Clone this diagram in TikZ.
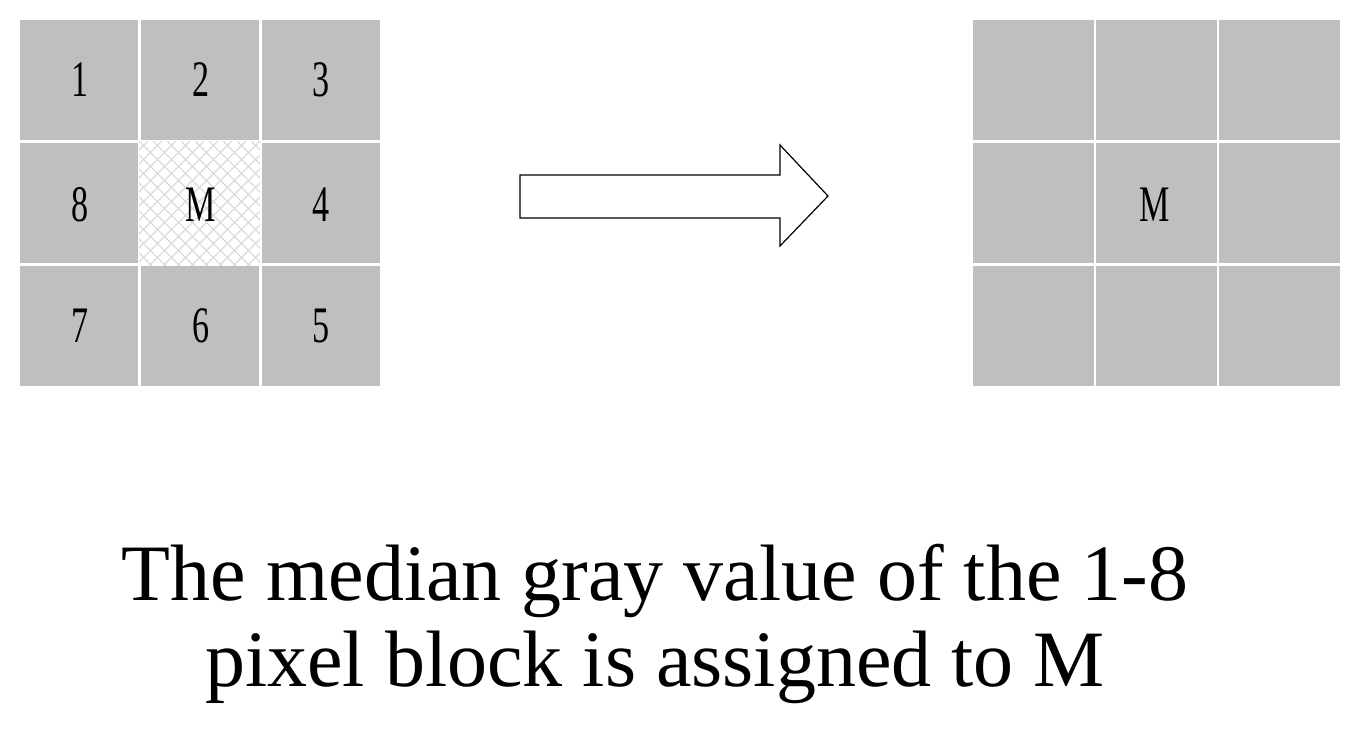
\documentclass[tikz,border=0pt]{standalone}
\usepackage{fontspec}
\setmainfont{Liberation Serif}
\begin{document}
\begin{tikzpicture}[x=0.75pt,y=-0.75pt,
  lab/.style={font=\fontsize{32pt}{34pt}\selectfont}]
\useasboundingbox (0,0) rectangle (1363,746);
\newcommand{\tall}[1]{\scalebox{0.8}[1.2]{#1}}
% left grid
\foreach \x in {20,141,262}{
 \foreach \y in {20,143,266}{
  \fill[black!25] (\x,\y) rectangle ++(118,120);
 }}
\fill[white] (139,141) rectangle (260,266);
\begin{scope}
\clip (139,141) rectangle (260,266);
\foreach \k in {-140,-126,...,140}{
  \draw[black!18,line width=0.6pt] (139+\k,141) -- ++(125,125);
  \draw[black!18,line width=0.6pt] (260-\k,141) -- ++(-125,125);
}
\end{scope}
\node[lab] (n1) at (80,80) {\tall{1}};
\node[lab] (n2) at (201,80) {\tall{2}};
\node[lab] (n3) at (321,80) {\tall{3}};
\node[lab] (n8) at (80,205) {\tall{8}};
\node[lab] (nM) at (201,205) {\tall{M}};
\node[lab] (n4) at (321,205) {\tall{4}};
\node[lab] (n7) at (80,326) {\tall{7}};
\node[lab] (n6) at (201,326) {\tall{6}};
\node[lab] (n5) at (321,326) {\tall{5}};
% arrow
\draw[line width=0.9pt,fill=white] (520,175) -- (780,175) -- (780,145) -- (828,196) -- (780,246) -- (780,218) -- (520,218) -- cycle;
% right grid
\foreach \x in {973,1096,1219}{
 \foreach \y in {20,143,266}{
  \fill[black!25] (\x,\y) rectangle ++(121,120);
 }}
\node[lab] (rM) at (1155,205) {\tall{M}};
% caption
\node[font=\fontsize{60pt}{64pt}\selectfont,align=center] (cap) at (655,624)
 {The median gray value of the 1-8\\pixel block is assigned to M};
\end{tikzpicture}
\end{document}
